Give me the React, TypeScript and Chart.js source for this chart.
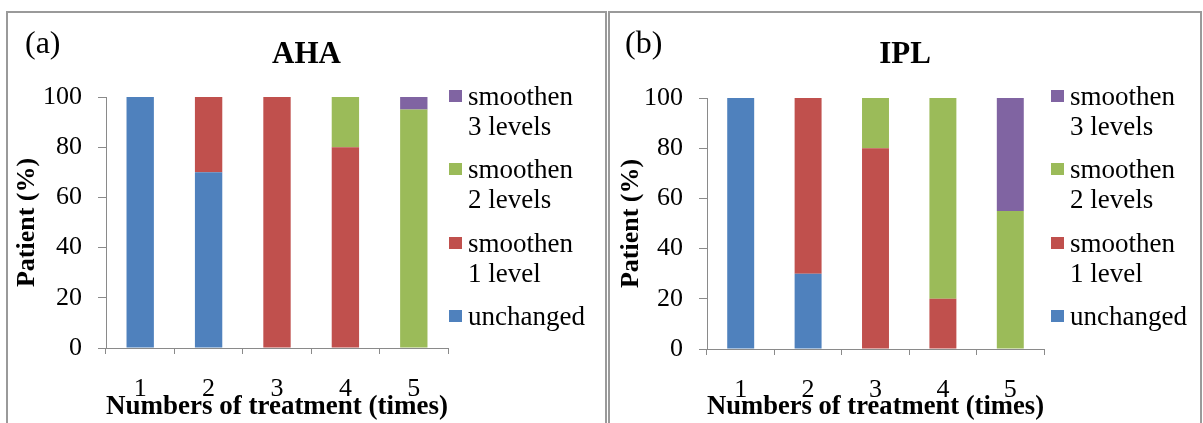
import React, { useEffect, useRef } from "react";
import { Chart, registerables } from "chart.js";

Chart.register(...registerables);

// ---------- data ----------
const categories = ["1", "2", "3", "4", "5"];
const seriesLabels = ["unchanged", "smoothen 1 level", "smoothen 2 levels", "smoothen 3 levels"];
const legendLines = [
  ["smoothen", "3 levels"],
  ["smoothen", "2 levels"],
  ["smoothen", "1 level"],
  ["unchanged"],
];
const ahaUnchanged = [100, 70, 0, 0, 0];
const ahaLevel1 = [0, 30, 100, 80, 0];
const ahaLevel2 = [0, 0, 0, 20, 95];
const ahaLevel3 = [0, 0, 0, 0, 5];
const iplUnchanged = [100, 30, 0, 0, 0];
const iplLevel1 = [0, 70, 80, 20, 0];
const iplLevel2 = [0, 0, 20, 80, 55];
const iplLevel3 = [0, 0, 0, 0, 45];
const yMin = 0;
const yMax = 100;
const yStep = 20;
const xTitle = "Numbers of treatment (times)";
const yTitle = "Patient (%)";

// ---------- style ----------
const FONT = "'Liberation Serif', 'Times New Roman', Times, serif";
const COLORS = ["#4F81BD", "#C0504D", "#9BBB59", "#8064A2"];
const LEGEND_COLORS = ["#8064A2", "#9BBB59", "#C0504D", "#4F81BD"];
const AXIS = "#8a8a8a";
const H = 423;

type PanelProps = {
  tag: string;
  title: string;
  series: number[][];
  canvasLeft: number;
  canvasWidth: number;
  padLeft: number;
  plotLeft: number;
  plotRight: number;
  plotTop: number;
  plotBottom: number;
  yTitlePad: number;
  boxLeft: number;
  boxWidth: number;
  legendSquareX: number;
  legendTextX: number;
  tagX: number;
};

function Panel(p: PanelProps) {
  const ref = useRef<HTMLCanvasElement | null>(null);

  useEffect(() => {
    if (!ref.current) return;
    const chart = new Chart(ref.current, {
      type: "bar",
      data: {
        labels: categories,
        datasets: p.series.map((d, i) => ({
          label: seriesLabels[i],
          data: d,
          backgroundColor: COLORS[i],
          borderWidth: 0,
          categoryPercentage: 1,
          barPercentage: 0.4,
        })),
      },
      options: {
        animation: false,
        responsive: false,
        layout: {
          padding: {
            left: p.padLeft,
            right: p.canvasWidth - p.plotRight,
            top: p.plotTop,
            bottom: 0,
          },
        },
        plugins: {
          legend: { display: false },
          title: { display: false },
          tooltip: { enabled: false },
        },
        scales: {
          x: {
            stacked: true,
            grid: {
              display: true,
              drawOnChartArea: false,
              drawTicks: true,
              tickLength: 6,
              color: AXIS,
              offset: true,
            },
            border: { display: true, color: AXIS, width: 1 },
            ticks: {
              color: "#000",
              font: { family: FONT, size: 26 },
              padding: 20,
              maxRotation: 0,
            },
            title: {
              display: true,
              text: xTitle,
              color: "#000",
              font: { family: FONT, size: 27, weight: "bold" },
              padding: { top: 0, bottom: 0 },
            },
            afterFit: (s: any) => {
              s.height = H - p.plotBottom;
            },
          },
          y: {
            stacked: true,
            min: yMin,
            max: yMax,
            grid: {
              display: true,
              drawOnChartArea: false,
              drawTicks: true,
              tickLength: 8,
              color: AXIS,
            },
            border: { display: true, color: AXIS, width: 1 },
            ticks: {
              stepSize: yStep,
              color: "#000",
              font: { family: FONT, size: 26 },
              padding: 16,
            },
            title: {
              display: true,
              text: yTitle,
              color: "#000",
              font: { family: FONT, size: 26, weight: "bold" },
              padding: { top: p.yTitlePad, bottom: 0 },
            },
            afterFit: (s: any) => {
              s.width = p.plotLeft - p.padLeft;
            },
          },
        },
      },
    } as any);
    return () => chart.destroy();
  }, []);

  const legendTop0 = 81;
  const legendStep = 73.3;

  return (
    <>
      <div
        style={{
          position: "absolute",
          left: p.boxLeft,
          top: 11,
          width: p.boxWidth,
          height: 440,
          border: "2px solid #9a9a9a",
          boxSizing: "border-box",
        }}
      />
      <canvas
        ref={ref}
        width={p.canvasWidth}
        height={H}
        style={{
          position: "absolute",
          left: p.canvasLeft,
          top: 0,
          width: p.canvasWidth,
          height: H,
        }}
      />
      <div
        style={{
          position: "absolute",
          left: p.tagX,
          top: 26,
          fontFamily: FONT,
          fontSize: 32,
          lineHeight: "32px",
          color: "#000",
          whiteSpace: "nowrap",
        }}
      >
        {p.tag}
      </div>
      <div
        style={{
          position: "absolute",
          left: p.boxLeft,
          width: p.boxWidth,
          top: 37,
          textAlign: "center",
          fontFamily: FONT,
          fontSize: 31,
          fontWeight: "bold",
          lineHeight: "31px",
          color: "#000",
        }}
      >
        {p.title}
      </div>
      {legendLines.map((lines, i) => {
        const top = legendTop0 + i * legendStep;
        return (
          <React.Fragment key={i}>
            <div
              style={{
                position: "absolute",
                left: p.legendSquareX,
                top: top + 9,
                width: 13,
                height: 12,
                background: LEGEND_COLORS[i],
              }}
            />
            <div
              style={{
                position: "absolute",
                left: p.legendTextX,
                top: top,
                fontFamily: FONT,
                fontSize: 27,
                lineHeight: "30px",
                color: "#000",
                whiteSpace: "nowrap",
              }}
            >
              {lines.map((l, j) => (
                <div key={j}>{l}</div>
              ))}
            </div>
          </React.Fragment>
        );
      })}
    </>
  );
}

export default function App() {
  return (
    <div
      style={{
        position: "absolute",
        left: 0,
        top: 0,
        width: 1203,
        height: H,
        overflow: "hidden",
        background: "#fff",
      }}
    >
      <Panel
        tag="(a)"
        title="AHA"
        series={[ahaUnchanged, ahaLevel1, ahaLevel2, ahaLevel3]}
        canvasLeft={0}
        canvasWidth={600}
        padLeft={8}
        plotLeft={106}
        plotRight={448}
        plotTop={97}
        plotBottom={348}
        yTitlePad={4}
        boxLeft={6}
        boxWidth={601}
        legendSquareX={449}
        legendTextX={468}
        tagX={25}
      />
      <Panel
        tag="(b)"
        title="IPL"
        series={[iplUnchanged, iplLevel1, iplLevel2, iplLevel3]}
        canvasLeft={600}
        canvasWidth={603}
        padLeft={10}
        plotLeft={107}
        plotRight={444}
        plotTop={98}
        plotBottom={349}
        yTitlePad={6}
        boxLeft={608}
        boxWidth={594}
        legendSquareX={1051}
        legendTextX={1070}
        tagX={625}
      />
    </div>
  );
}
